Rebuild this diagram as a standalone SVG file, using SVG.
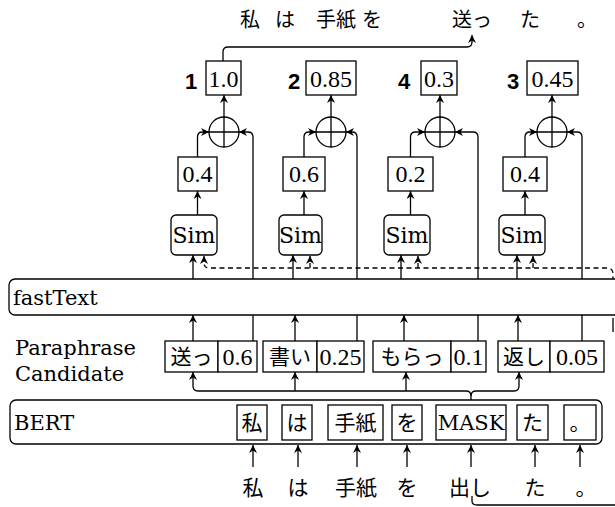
<svg xmlns="http://www.w3.org/2000/svg" width="615" height="507" viewBox="0 0 615 507">
<style>
.b{fill:#fff;stroke:#000;stroke-width:1.3}
.c{fill:none;stroke:#000;stroke-width:1.3}
.d{fill:none;stroke:#000;stroke-width:1.3;stroke-dasharray:5 3.5}
.w{font-family:"DejaVu Serif",serif;font-size:21px;fill:#000}
.s{font-family:"DejaVu Serif",serif;font-size:22px;fill:#000}
.n{font-family:"Liberation Serif",serif;font-size:24px;fill:#000}
.j{font-family:"Noto Sans CJK JP",sans-serif;font-size:21px;fill:#000}
.jt{font-family:"Noto Sans CJK JP",sans-serif;font-size:20px;fill:#000}
.r{font-family:"Liberation Sans",sans-serif;font-weight:bold;font-size:22px;fill:#000}
</style>
<defs>
<marker id="ah" viewBox="0 0 10 10" refX="10" refY="5" markerWidth="8" markerHeight="8" orient="auto" markerUnits="userSpaceOnUse">
<path d="M0,0 L10,5 L0,10 L3,5 Z" fill="#000"/>
</marker>
</defs>

<g id="output-sentence">
<text class="jt" x="240" y="27">私</text>
<text class="jt" x="275" y="27">は</text>
<text class="jt" x="316" y="27">手紙</text>
<text class="jt" x="362" y="27">を</text>
<text class="jt" x="452" y="27">送っ</text>
<text class="jt" x="520" y="27">た</text>
<text class="jt" x="577" y="27">。</text>
</g>

<g id="scores">
<g id="score1"><text class="r" x="191" y="89" text-anchor="middle">1</text><rect class="b" x="206" y="61" width="35" height="34"/><text class="n" x="223.5" y="87" text-anchor="middle">1.0</text></g>
<g id="score2"><text class="r" x="294" y="89" text-anchor="middle">2</text><rect class="b" x="306" y="61" width="50" height="34"/><text class="n" x="331" y="87" text-anchor="middle">0.85</text></g>
<g id="score3"><text class="r" x="404" y="89" text-anchor="middle">4</text><rect class="b" x="421" y="61" width="36" height="34"/><text class="n" x="439" y="87" text-anchor="middle">0.3</text></g>
<g id="score4"><text class="r" x="513" y="89" text-anchor="middle">3</text><rect class="b" x="527" y="61" width="51" height="34"/><text class="n" x="552.5" y="87" text-anchor="middle">0.45</text></g>
</g>

<g id="plus">
<g id="plus1"><circle class="b" cx="224" cy="132" r="15"/><path class="c" d="M209,132 H239 M224,117 V147"/></g>
<g id="plus2"><circle class="b" cx="331" cy="132" r="15"/><path class="c" d="M316,132 H346 M331,117 V147"/></g>
<g id="plus3"><circle class="b" cx="440" cy="132" r="15"/><path class="c" d="M425,132 H455 M440,117 V147"/></g>
<g id="plus4"><circle class="b" cx="552" cy="132" r="15"/><path class="c" d="M537,132 H567 M552,117 V147"/></g>
</g>

<g id="weights">
<g id="w1"><rect class="b" x="178" y="157" width="39" height="34"/><text class="n" x="197.5" y="182" text-anchor="middle">0.4</text></g>
<g id="w2"><rect class="b" x="283" y="157" width="42" height="34"/><text class="n" x="304" y="182" text-anchor="middle">0.6</text></g>
<g id="w3"><rect class="b" x="388" y="157" width="45" height="34"/><text class="n" x="410.5" y="182" text-anchor="middle">0.2</text></g>
<g id="w4"><rect class="b" x="503" y="157" width="44" height="34"/><text class="n" x="525" y="182" text-anchor="middle">0.4</text></g>
</g>

<g id="sims">
<g id="sim1"><rect class="b" x="171" y="215" width="46" height="40" rx="5"/><text class="s" x="194" y="243" text-anchor="middle">Sim</text></g>
<g id="sim2"><rect class="b" x="279" y="215" width="43" height="40" rx="5"/><text class="s" x="300.5" y="243" text-anchor="middle">Sim</text></g>
<g id="sim3"><rect class="b" x="384" y="215" width="46" height="40" rx="5"/><text class="s" x="407" y="243" text-anchor="middle">Sim</text></g>
<g id="sim4"><rect class="b" x="499" y="215" width="46" height="40" rx="5"/><text class="s" x="522" y="243" text-anchor="middle">Sim</text></g>
</g>

<g id="connectors">
<path class="c" d="M223,61 V52 Q223,47 228,47 H467 Q472,47 472,42 V35" marker-end="url(#ah)"/>
<path class="c" d="M224,117 V95" marker-end="url(#ah)"/>
<path class="c" d="M197.5,157 V137 Q197.5,132 202.5,132 H209" marker-end="url(#ah)"/>
<path class="c" d="M253,279 V137 Q253,132 248,132 H239" marker-end="url(#ah)"/>
<path class="c" d="M197.5,215 V191" marker-end="url(#ah)"/>
<path class="c" d="M193,279 V255" marker-end="url(#ah)"/>
<path class="c" d="M331,117 V95" marker-end="url(#ah)"/>
<path class="c" d="M304,157 V137 Q304,132 309,132 H316" marker-end="url(#ah)"/>
<path class="c" d="M357,279 V137 Q357,132 352,132 H346" marker-end="url(#ah)"/>
<path class="c" d="M304,215 V191" marker-end="url(#ah)"/>
<path class="c" d="M293,279 V255" marker-end="url(#ah)"/>
<path class="d" d="M310,268 V256" marker-end="url(#ah)"/>
<path class="c" d="M440,117 V95" marker-end="url(#ah)"/>
<path class="c" d="M410.5,157 V137 Q410.5,132 415.5,132 H425" marker-end="url(#ah)"/>
<path class="c" d="M478,279 V137 Q478,132 473,132 H455" marker-end="url(#ah)"/>
<path class="c" d="M410.5,215 V191" marker-end="url(#ah)"/>
<path class="c" d="M401,279 V255" marker-end="url(#ah)"/>
<path class="d" d="M418,268 V256" marker-end="url(#ah)"/>
<path class="c" d="M552,117 V95" marker-end="url(#ah)"/>
<path class="c" d="M525,157 V137 Q525,132 530,132 H537" marker-end="url(#ah)"/>
<path class="c" d="M582,279 V137 Q582,132 577,132 H567" marker-end="url(#ah)"/>
<path class="c" d="M525,215 V191" marker-end="url(#ah)"/>
<path class="c" d="M517,279 V255" marker-end="url(#ah)"/>
<path class="d" d="M533,268 V256" marker-end="url(#ah)"/>
<path class="d" d="M613,290 V274 Q613,268 607,268 H209 Q204,268 204,263 V256" marker-end="url(#ah)"/>
<path class="c" d="M193,341 V315" marker-end="url(#ah)"/>
<path class="c" d="M295,341 V315" marker-end="url(#ah)"/>
<path class="c" d="M404,341 V315" marker-end="url(#ah)"/>
<path class="c" d="M518,341 V315" marker-end="url(#ah)"/>
<path class="c" d="M253,341 V315 M357,341 V315 M478,341 V315 M582,341 V315"/>
<path class="c" d="M471,405 V396 Q471,391 466,391 H198 Q193,391 193,386 V372" marker-end="url(#ah)"/>
<path class="c" d="M471,396 Q471,391 476,391 H514 Q519,391 519,386 V372" marker-end="url(#ah)"/>
<path class="c" d="M295,391 V372" marker-end="url(#ah)"/>
<path class="c" d="M406,391 V372" marker-end="url(#ah)"/>
<path class="c" d="M253,467 V445" marker-end="url(#ah)"/>
<path class="c" d="M298,467 V445" marker-end="url(#ah)"/>
<path class="c" d="M357,467 V445" marker-end="url(#ah)"/>
<path class="c" d="M407,467 V445" marker-end="url(#ah)"/>
<path class="c" d="M471,467 V445" marker-end="url(#ah)"/>
<path class="c" d="M535,467 V445" marker-end="url(#ah)"/>
<path class="c" d="M580,467 V445" marker-end="url(#ah)"/>
<path class="c" d="M472,496 V501 Q472,505 477,505 H616"/>
<path class="c" d="M613,332 V318"/>
</g>

<g id="fasttext">
<rect class="b" x="9" y="279" width="620" height="36" rx="6"/>
<text class="w" x="13" y="305">fastText</text>
</g>

<g id="candidate-label">
<text class="w" x="15" y="355">Paraphrase</text>
<text class="w" x="15" y="381">Candidate</text>
</g>

<g id="candidates">
<g id="cand1"><rect class="b" x="165" y="341" width="53" height="31"/><text class="j" x="191.5" y="364" text-anchor="middle">送っ</text><rect class="b" x="218" y="341" width="39" height="31"/><text class="n" x="237.5" y="365" text-anchor="middle">0.6</text></g>
<g id="cand2"><rect class="b" x="263" y="341" width="54" height="31"/><text class="j" x="290" y="364" text-anchor="middle">書い</text><rect class="b" x="317" y="341" width="47" height="31"/><text class="n" x="340.5" y="365" text-anchor="middle">0.25</text></g>
<g id="cand3"><rect class="b" x="373" y="341" width="78" height="31"/><text class="j" x="412" y="364" text-anchor="middle">もらっ</text><rect class="b" x="451" y="341" width="35" height="31"/><text class="n" x="468.5" y="365" text-anchor="middle">0.1</text></g>
<g id="cand4"><rect class="b" x="498" y="341" width="52" height="31"/><text class="j" x="524" y="364" text-anchor="middle">返し</text><rect class="b" x="550" y="341" width="54" height="31"/><text class="n" x="577" y="365" text-anchor="middle">0.05</text></g>
</g>

<g id="bert">
<rect class="b" x="10" y="400" width="592" height="44" rx="6"/>
<text class="w" x="14" y="430">BERT</text>
<rect class="b" x="237" y="405" width="30" height="35"/><text class="j" x="252" y="430" text-anchor="middle">私</text>
<rect class="b" x="282" y="405" width="30" height="35"/><text class="j" x="297" y="430" text-anchor="middle">は</text>
<rect class="b" x="328" y="405" width="55" height="35"/><text class="j" x="355.5" y="430" text-anchor="middle">手紙</text>
<rect class="b" x="392" y="405" width="30" height="35"/><text class="j" x="407" y="430" text-anchor="middle">を</text>
<rect class="b" x="436" y="405" width="70" height="35"/><text class="w" x="471" y="430" text-anchor="middle">MASK</text>
<rect class="b" x="517" y="405" width="31" height="35"/><text class="j" x="532.5" y="430" text-anchor="middle">た</text>
<rect class="b" x="564" y="405" width="32" height="35"/><text class="j" x="580" y="430" text-anchor="middle">。</text>
</g>

<g id="input-sentence">
<text class="j" x="253" y="495" text-anchor="middle">私</text>
<text class="j" x="298" y="495" text-anchor="middle">は</text>
<text class="j" x="356" y="495" text-anchor="middle">手紙</text>
<text class="j" x="407" y="495" text-anchor="middle">を</text>
<text class="j" x="470" y="495" text-anchor="middle">出し</text>
<text class="j" x="535" y="495" text-anchor="middle">た</text>
<text class="j" x="586" y="495" text-anchor="middle">。</text>
</g>
</svg>
